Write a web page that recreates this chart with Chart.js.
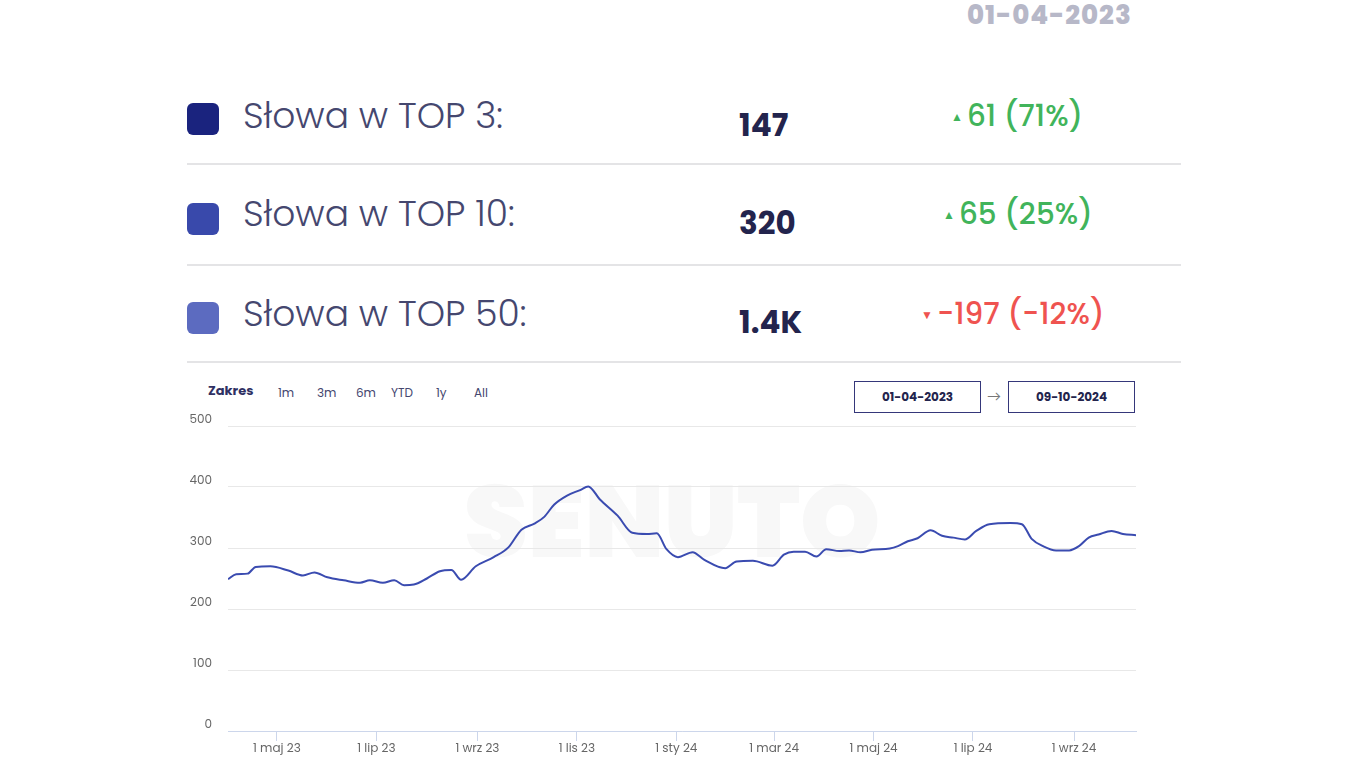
<!DOCTYPE html>
<html lang="pl">
<head>
    <meta charset="UTF-8">
    <title>Słowa w TOP</title>
    <script src="https://cdn.jsdelivr.net/npm/chart.js"></script>
    <style>
        body {
            margin: 0;
            width: 1366px;
            height: 768px;
            background: #ffffff;
            font-family: "Poppins", "Lato", sans-serif;
            position: relative;
            overflow: hidden;
        }
        .abs { position: absolute; white-space: nowrap; line-height: 1; }
        .date-top { left: 967px; top: 2px; font-size: 26px; font-weight: 800; color: #b7b8c8; letter-spacing: 1px; }
        .sq { position: absolute; left: 187px; width: 32px; height: 32px; border-radius: 6px; }
        .label { left: 243px; font-size: 36px; font-weight: 300; color: #45476f; }
        .num { left: 739px; font-size: 31px; font-weight: 700; color: #23244d; }
        .chg { font-size: 29.5px; font-weight: 500; }
        .up { color: #41b45b; }
        .down { color: #ef5350; }
        .tri { font-size: 12px; vertical-align: 5px; margin-right: 4px; }
        .sep { position: absolute; left: 187px; width: 994px; height: 2px; background: #e4e4e6; }
        .zakres { left: 208px; top: 384px; font-size: 13px; font-weight: 700; color: #2f3063; }
        .rng { top: 387px; font-size: 12px; color: #45476f; }
        .box { position: absolute; top: 381px; width: 125px; height: 30px; border: 1.5px solid #35377a;
               font-size: 12px; font-weight: 700; color: #23244d; text-align: center; line-height: 30px; }
        .arrow { left: 987px; top: 389px; font-size: 14px; color: #777; }
        .wm { left: 464px; top: 471px; font-size: 102px; font-weight: 900; color: #f8f8f8; }
        #wrap { position: absolute; left: 180px; top: 398px; width: 960px; height: 363px; }
    </style>
</head>
<body>
    <div class="abs date-top">01-04-2023</div>

    <div class="sq" style="top:103px; background:#1a237e;"></div>
    <div class="abs label" style="top:98px;">Słowa w TOP 3:</div>
    <div class="abs num" style="top:110px;">147</div>
    <div class="abs chg up" style="left:951px; top:101px;"><span class="tri">&#9650;</span>61 (71%)</div>
    <div class="sep" style="top:163px;"></div>

    <div class="sq" style="top:203px; background:#3949ab;"></div>
    <div class="abs label" style="top:196px;">Słowa w TOP 10:</div>
    <div class="abs num" style="top:208px;">320</div>
    <div class="abs chg up" style="left:943px; top:199px;"><span class="tri">&#9650;</span>65 (25%)</div>
    <div class="sep" style="top:264px;"></div>

    <div class="sq" style="top:302px; background:#5c6bc0;"></div>
    <div class="abs label" style="top:296px;">Słowa w TOP 50:</div>
    <div class="abs num" style="top:307px;">1.4K</div>
    <div class="abs chg down" style="left:921px; top:299px;"><span class="tri">&#9660;</span>-197 (-12%)</div>
    <div class="sep" style="top:361px;"></div>

    <div class="abs zakres">Zakres</div>
    <div class="abs rng" style="left:278px;">1m</div>
    <div class="abs rng" style="left:317px;">3m</div>
    <div class="abs rng" style="left:356px;">6m</div>
    <div class="abs rng" style="left:391px;">YTD</div>
    <div class="abs rng" style="left:436px;">1y</div>
    <div class="abs rng" style="left:474px;">All</div>
    <div class="box" style="left:854px;">01-04-2023</div>
    <div class="abs arrow">&rarr;</div>
    <div class="box" style="left:1008px;">09-10-2024</div>

    <div class="abs wm">SENUTO</div>

    <div id="wrap"><canvas id="wykres"></canvas></div>

    <script>
        const startDate = '2023-04-01';
        const endDate = '2024-10-09';

        const dates = [
            '2023-04-01', '2023-04-06', '2023-04-13', '2023-04-18', '2023-04-27', '2023-05-08',
            '2023-05-17', '2023-05-24', '2023-06-01', '2023-06-11', '2023-06-21', '2023-06-27',
            '2023-07-05', '2023-07-12', '2023-07-18', '2023-07-24', '2023-08-01', '2023-08-09',
            '2023-08-16', '2023-08-22', '2023-08-31', '2023-09-11', '2023-09-20', '2023-09-28',
            '2023-10-06', '2023-10-12', '2023-10-18', '2023-10-26', '2023-11-03', '2023-11-08',
            '2023-11-15', '2023-11-26', '2023-12-05', '2023-12-14', '2023-12-20', '2023-12-26',
            '2024-01-02', '2024-01-11', '2024-01-18', '2024-01-31', '2024-02-07', '2024-02-17',
            '2024-02-29', '2024-03-07', '2024-03-13', '2024-03-20', '2024-03-27', '2024-04-02',
            '2024-04-10', '2024-04-16', '2024-04-23', '2024-04-30', '2024-05-11', '2024-05-16',
            '2024-05-22', '2024-05-28', '2024-06-05', '2024-06-12', '2024-06-19', '2024-06-26',
            '2024-07-03', '2024-07-11', '2024-07-24', '2024-07-31', '2024-08-06', '2024-08-13',
            '2024-08-21', '2024-08-29', '2024-09-04', '2024-09-10', '2024-09-16', '2024-09-24',
            '2024-10-01', '2024-10-09'
        ];

        const top10 = [
            249, 257, 258, 269, 270, 263,
            255, 260, 252, 247, 243, 247,
            243, 247, 239, 240, 250, 262,
            264, 248, 270, 285, 301, 330,
            340, 351, 371, 386, 395, 401,
            380, 353, 325, 323, 324, 298,
            285, 293, 281, 267, 278, 279,
            271, 289, 294, 294, 286, 298,
            295, 296, 293, 297, 299, 303,
            311, 316, 329, 320, 317, 314,
            328, 339, 341, 339, 315, 303,
            296, 296, 303, 317, 322, 328,
            323, 321
        ];

        const tickDates = ['2023-05-01', '2023-07-01', '2023-09-01', '2023-11-01', '2024-01-01',
                           '2024-03-01', '2024-05-01', '2024-07-01', '2024-09-01'];
        const tickLabels = ['1 maj 23', '1 lip 23', '1 wrz 23', '1 lis 23', '1 sty 24',
                            '1 mar 24', '1 maj 24', '1 lip 24', '1 wrz 24'];
        const yTicks = [0, 100, 200, 300, 400, 500];

        // dni od początku zakresu
        function dzien(d) {
            return (Date.parse(d) - Date.parse(startDate)) / 864e5;
        }

        const punkty = dates.map((d, i) => ({ x: dzien(d), y: top10[i] }));

        Chart.defaults.font.family = '"Poppins", "Lato", sans-serif';

        new Chart(document.getElementById('wykres'), {
            type: 'line',
            data: {
                datasets: [{
                    label: 'Słowa w TOP 10',
                    data: punkty,
                    borderColor: '#3a4bb0',
                    borderWidth: 2,
                    pointRadius: 0,
                    tension: 0.4,
                    cubicInterpolationMode: 'monotone',
                    fill: false
                }]
            },
            options: {
                responsive: true,
                maintainAspectRatio: false,
                animation: false,
                layout: { padding: { top: 4, right: 4, left: 0, bottom: 0 } },
                plugins: {
                    legend: { display: false },
                    tooltip: { enabled: false }
                },
                scales: {
                    x: {
                        type: 'linear',
                        min: 0,
                        max: dzien(endDate),
                        afterBuildTicks: (s) => { s.ticks = tickDates.map(d => ({ value: dzien(d) })); },
                        afterFit: (s) => { s.height = 30; },
                        ticks: {
                            autoSkip: false,
                            maxRotation: 0,
                            padding: 1,
                            color: '#666666',
                            font: { size: 12 },
                            callback: (v, i) => tickLabels[i]
                        },
                        grid: {
                            drawOnChartArea: false,
                            drawTicks: true,
                            tickLength: 10,
                            color: '#ccd6eb'
                        },
                        border: { display: true, color: '#ccd6eb', width: 1 }
                    },
                    y: {
                        min: 0,
                        max: 500,
                        afterBuildTicks: (s) => { s.ticks = yTicks.map(v => ({ value: v })); },
                        afterFit: (s) => { s.width = 48; },
                        ticks: {
                            padding: 16,
                            color: '#666666',
                            font: { size: 12, lineHeight: 1 },
                            // druga pusta linia podnosi etykietę nad linię siatki
                            callback: (v) => [String(v), '']
                        },
                        grid: {
                            drawTicks: false,
                            color: '#e8e8e8',
                            lineWidth: 1
                        },
                        border: { display: false }
                    }
                }
            }
        });
    </script>
</body>
</html>
